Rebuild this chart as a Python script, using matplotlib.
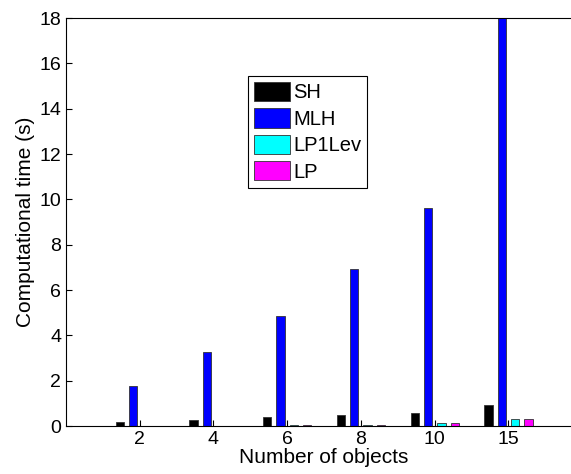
import numpy as np
import matplotlib.pyplot as plt

plt.rcParams['font.family'] = ['Liberation Sans', 'DejaVu Sans']

# Data
categories = ['2', '4', '6', '8', '10', '15']
sh = [0.20, 0.27, 0.40, 0.47, 0.58, 0.91]
mlh = [1.75, 3.25, 4.85, 6.95, 9.60, 18.0]
lp1lev = [0.01, 0.02, 0.03, 0.07, 0.12, 0.32]
lp = [0.01, 0.02, 0.03, 0.07, 0.12, 0.32]

series = [('SH', sh, '#000000'), ('MLH', mlh, '#0000ff'),
          ('LP1Lev', lp1lev, '#00ffff'), ('LP', lp, '#ff00ff')]

fig = plt.figure(figsize=(5.71, 4.74), dpi=100)
ax = fig.add_axes([0.1156, 0.101, 0.904, 0.861])

x = np.arange(1, len(categories) + 1)
step = 0.181
width = 0.113
for i, (name, vals, col) in enumerate(series):
    ax.bar(x + (i - 1.5) * step, vals, width, color=col, edgecolor='#333333',
           linewidth=0.6, label=name)

ax.set_xlim(0, 7)
ax.set_ylim(0, 18)
ax.set_xticks(x)
ax.set_xticklabels(categories)
ax.set_yticks(np.arange(0, 19, 2))
ax.tick_params(direction='in', labelsize=14, length=4, width=0.8)
ax.set_xlabel('Number of objects', fontsize=15, labelpad=0)
ax.set_ylabel('Computational time (s)', fontsize=15, labelpad=3)
for s in ax.spines.values():
    s.set_linewidth(0.8)

leg = ax.legend(loc='upper left', bbox_to_anchor=(248 / 571, 1 - 76 / 474),
                bbox_transform=fig.transFigure, fontsize=14.5, fancybox=False,
                edgecolor='black', framealpha=1, handlelength=1.8,
                handleheight=1.08, handletextpad=0.15, labelspacing=0.3,
                borderpad=0.3, borderaxespad=0)
leg.get_frame().set_linewidth(0.8)

fig.savefig('out.png', dpi=100)
